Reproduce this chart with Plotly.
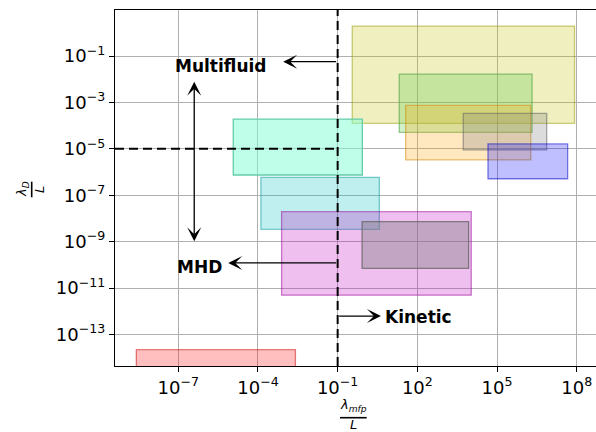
import plotly.graph_objects as go

# Decade ticks on both log axes
x_tick_exp = [-7, -4, -1, 2, 5, 8]
y_tick_exp = [-1, -3, -5, -7, -9, -11, -13]

# Parameter-space regions, given as log10 extents
region_x_lo = [-0.45, 1.32, 1.56, 3.73, 4.66, -4.93, -3.89, -3.11, -0.08, -8.58]
region_x_hi = [7.92, 6.32, 6.27, 6.87, 7.66, -0.07, 0.57, 4.03, 3.93, -2.59]
region_y_lo = [-3.90, -4.29, -5.48, -5.05, -6.29, -6.13, -8.47, -11.31, -10.15, -15.0]
region_y_hi = [0.29, -1.78, -3.13, -3.47, -4.79, -3.72, -6.23, -7.71, -8.14, -13.66]
region_rgb = [(191, 191, 0), (100, 205, 85), (255, 165, 0), (128, 128, 128),
              (0, 0, 255), (127, 255, 212), (0, 191, 191), (191, 0, 191),
              (128, 128, 128), (255, 0, 0)]
region_alpha = [0.25, 0.3, 0.25, 0.28, 0.25, 0.5, 0.25, 0.25, 0.4, 0.25]

# Regime boundaries
kn_boundary = 1e-1      # lambda_mfp / L
debye_boundary = 1e-5   # lambda_D / L

X_RANGE = [-9.383, 8.727]
Y_RANGE = [-14.362, 0.983]

W, H = 596, 432
ML, MR, MT, MB = 115, 0, 10, 66
PW, PH = W - ML - MR, H - MT - MB


def px(xp):
    return (xp - ML) / PW


def py(yp):
    return (H - MB - yp) / PH


def sup(e):
    return "10<sup>" + ("\u2212" + str(-e) if e < 0 else str(e)) + "</sup>"


fig = go.Figure()
fig.add_trace(go.Scatter(x=[10 ** X_RANGE[0], 10 ** X_RANGE[1]],
                         y=[10 ** Y_RANGE[0], 10 ** Y_RANGE[1]],
                         mode="markers", marker=dict(opacity=0),
                         hoverinfo="skip", showlegend=False))

shapes = []
for x0, x1, y0, y1, c, a in zip(region_x_lo, region_x_hi, region_y_lo,
                                region_y_hi, region_rgb, region_alpha):
    fill = "rgba(%d,%d,%d,%s)" % (c[0], c[1], c[2], a)
    edge = "rgba(%d,%d,%d,%s)" % (int(c[0] * 0.8), int(c[1] * 0.8),
                                  int(c[2] * 0.8), min(1.0, a * 2.0))
    shapes.append(dict(type="rect", xref="x", yref="y",
                       x0=10 ** x0, x1=10 ** x1, y0=10 ** y0, y1=10 ** y1,
                       fillcolor=fill, line=dict(color=edge, width=1.3),
                       layer="above"))

# dashed regime boundaries
kn_paper = (-1 - X_RANGE[0]) / (X_RANGE[1] - X_RANGE[0])
shapes.append(dict(type="line", xref="x", yref="paper",
                   x0=kn_boundary, x1=kn_boundary, y0=0, y1=1,
                   line=dict(color="black", width=2, dash="9px,5px"),
                   layer="above"))
shapes.append(dict(type="line", xref="paper", yref="y",
                   x0=0, x1=kn_paper,
                   y0=debye_boundary, y1=debye_boundary,
                   line=dict(color="black", width=2, dash="9px,5px"),
                   layer="above"))

# fraction bars of the axis titles
shapes.append(dict(type="line", xref="paper", yref="paper",
                   x0=px(340), x1=px(366.7), y0=py(417.7), y1=py(417.7),
                   line=dict(color="black", width=1.6)))
shapes.append(dict(type="line", xref="paper", yref="paper",
                   x0=px(31.7), x1=px(31.7), y0=py(181.7), y1=py(197.3),
                   line=dict(color="black", width=1.6)))

arrow = dict(showarrow=True, text="", arrowhead=3, arrowsize=1.8,
             arrowwidth=1.3, arrowcolor="black", xref="x", yref="y",
             axref="x", ayref="y", standoff=0, startstandoff=0)

annotations = [
    dict(arrow, x=-3.05, y=-1.245, ax=-1, ay=-1.245),
    dict(arrow, x=-5.12, y=-9.92, ax=-1, ay=-9.92),
    dict(arrow, x=0.632, y=-12.21, ax=-1, ay=-12.21),
    dict(arrow, x=-6.40, y=-2.11, ax=-6.40, ay=-9.05, arrowside="end+start",
         startarrowhead=3, startarrowsize=1.8),
]

label_font = dict(family="DejaVu Sans", size=17, color="black")
annotations += [
    dict(text="<b>Multifluid</b>", x=-5.40, y=-1.43, xref="x", yref="y",
         showarrow=False, xanchor="center", yanchor="middle", font=label_font),
    dict(text="<b>MHD</b>", x=-6.21, y=-10.09, xref="x", yref="y",
         showarrow=False, xanchor="center", yanchor="middle", font=label_font),
    dict(text="<b>Kinetic</b>", x=0.72, y=-12.25, xref="x", yref="y",
         showarrow=False, xanchor="left", yanchor="middle", font=label_font),
]

title_font = dict(family="DejaVu Sans", size=13, color="black")
annotations += [
    dict(text="<i>λ<sub>mfp</sub></i>", x=px(353.3), y=py(405), xref="paper",
         yref="paper", showarrow=False, xanchor="center", yanchor="middle",
         font=title_font),
    dict(text="<i>L</i>", x=px(353.3), y=py(425), xref="paper", yref="paper",
         showarrow=False, xanchor="center", yanchor="middle", font=title_font),
    dict(text="<i>λ<sub>D</sub></i>", x=px(22), y=py(189), xref="paper",
         yref="paper", showarrow=False, xanchor="center", yanchor="middle",
         textangle=-90, font=title_font),
    dict(text="<i>L</i>", x=px(39.5), y=py(189.5), xref="paper", yref="paper",
         showarrow=False, xanchor="center", yanchor="middle", textangle=-90,
         font=title_font),
]

axis_common = dict(type="log", showgrid=True, gridcolor="#b0b0b0",
                   gridwidth=1.1, showline=True, linecolor="black",
                   linewidth=1.1, ticks="outside", ticklen=5, tickwidth=1.1,
                   tickcolor="black", zeroline=False,
                   tickfont=dict(family="DejaVu Sans", size=18, color="black"))

fig.update_layout(
    width=W, height=H,
    margin=dict(l=ML, r=MR, t=MT, b=MB, pad=0),
    paper_bgcolor="white", plot_bgcolor="white",
    showlegend=False,
    shapes=shapes, annotations=annotations,
    xaxis=dict(axis_common, range=X_RANGE, mirror=True,
               tickvals=[10 ** e for e in x_tick_exp],
               ticktext=[sup(e) for e in x_tick_exp]),
    yaxis=dict(axis_common, range=Y_RANGE,
               tickvals=[10 ** e for e in y_tick_exp],
               ticktext=[sup(e) for e in y_tick_exp]),
)

fig.write_html("out.html")
